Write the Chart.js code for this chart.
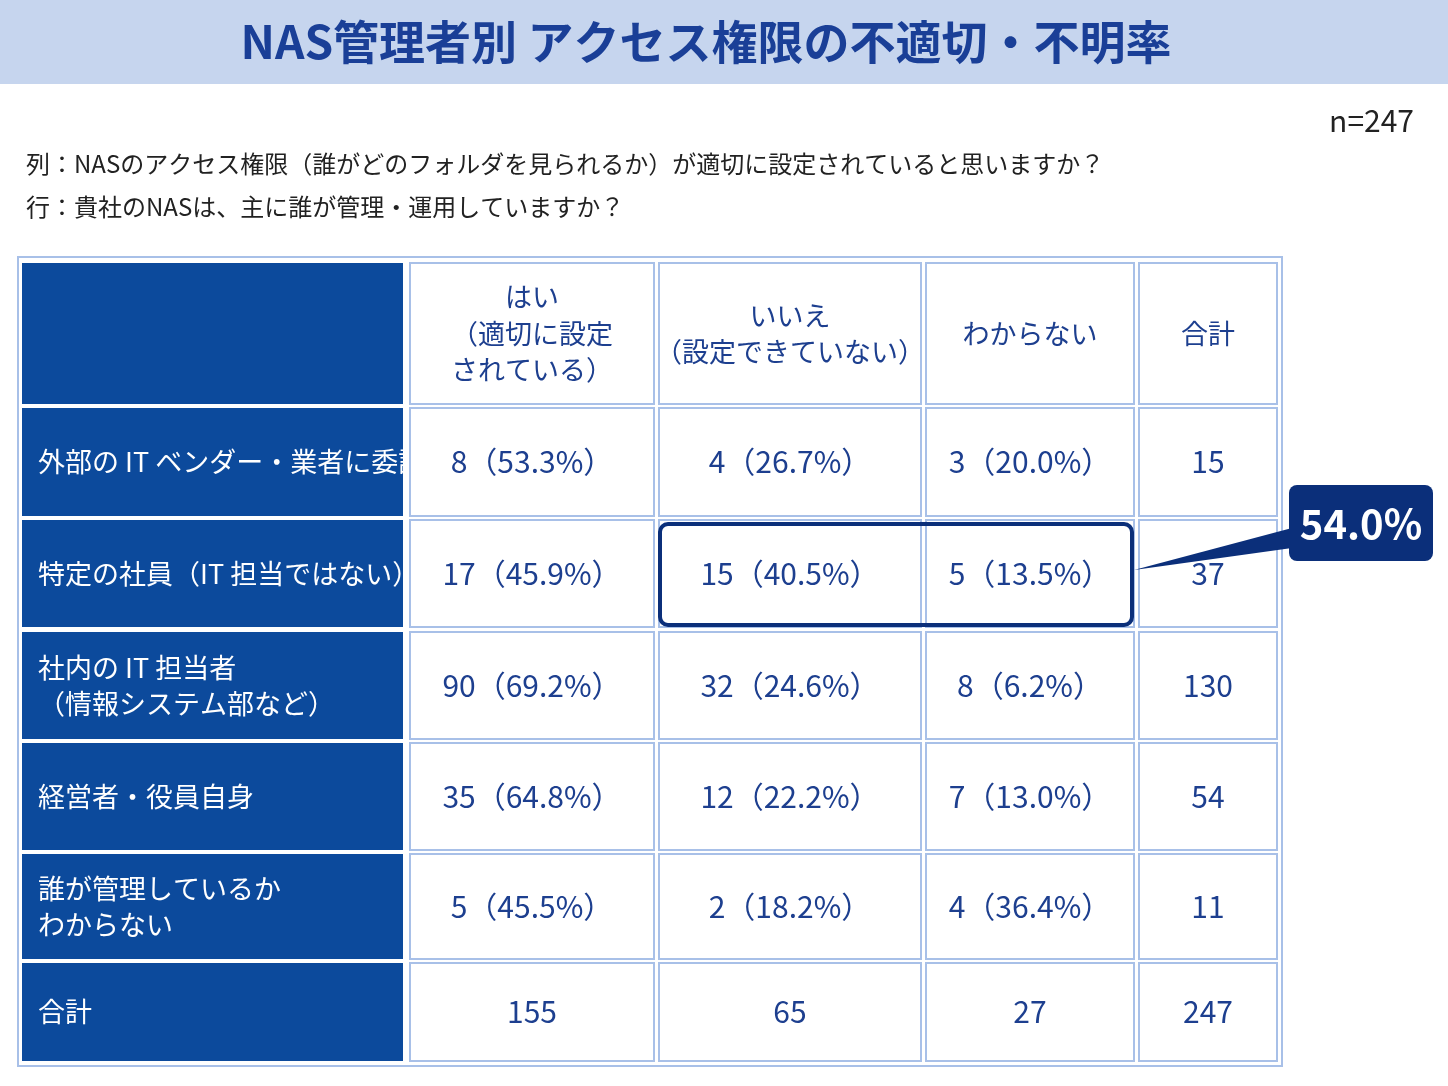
<!DOCTYPE html>
<html><head><meta charset="utf-8">
<script src="https://cdn.jsdelivr.net/npm/chart.js@4"></script>
<style>body{margin:0;background:#fff}canvas{display:block}</style>
</head><body>
<canvas id="c" width="1448" height="1086"></canvas>
<script>
const title = 'NAS管理者別 アクセス権限の不適切・不明率';
const sampleSize = 'n=247';
const questionCol = '列：NASのアクセス権限（誰がどのフォルダを見られるか）が適切に設定されていると思いますか？';
const questionRow = '行：貴社のNASは、主に誰が管理・運用していますか？';
const colHeaders = [['はい', '（適切に設定', 'されている）'], ['いいえ', '（設定できていない）'], ['わからない'], ['合計']];
const rowLabels = [['外部の IT ベンダー・業者に委託'], ['特定の社員（IT 担当ではない）'], ['社内の IT 担当者', '（情報システム部など）'], ['経営者・役員自身'], ['誰が管理しているか', 'わからない'], ['合計']];
const yesCounts = [8, 17, 90, 35, 5];
const noCounts = [4, 15, 32, 12, 2];
const unknownCounts = [3, 5, 8, 7, 4];
const highlightLabel = '54.0%';

// layout (page pixels mapped through hidden linear scales)
const colEdges = [[22, 403], [410, 654], [659, 921], [926, 1134], [1139, 1277]];
const rowEdges = [[263, 404], [408, 516], [520, 627], [632, 739], [743, 850], [854, 959], [963, 1061]];

const NAVY = '#0c4a9c', TXT = '#1d3f8f', LINE = '#a8c0e8';
const FONT = '"Noto Sans CJK JP", "Noto Sans", sans-serif';

function pct(v, t) { return v + '（' + (v / t * 100).toFixed(1) + '%）'; }

const tablePlugin = {
  id: 'table',
  afterDraw(chart) {
    const ctx = chart.ctx, xs = chart.scales.x, ys = chart.scales.y;
    const X = v => xs.getPixelForValue(v), Y = v => ys.getPixelForValue(v);
    ctx.save();
    // title band
    ctx.fillStyle = '#c6d5ee';
    ctx.fillRect(X(0), Y(0), X(1448) - X(0), Y(84) - Y(0));
    ctx.fillStyle = '#1a3f97';
    ctx.font = 'bold 46px ' + FONT;
    ctx.textAlign = 'center'; ctx.textBaseline = 'middle';
    ctx.fillText(title, X(706), Y(42));
    ctx.fillStyle = '#222';
    ctx.font = '30px ' + FONT;
    ctx.textAlign = 'right';
    ctx.fillText(sampleSize, X(1414), Y(121));
    ctx.font = '24px ' + FONT; ctx.textAlign = 'left';
    ctx.fillText(questionCol, X(26), Y(164));
    ctx.fillText(questionRow, X(26), Y(207));

    // outer border
    ctx.strokeStyle = LINE; ctx.lineWidth = 2;
    ctx.strokeRect(X(18), Y(257), X(1282) - X(18), Y(1066) - Y(257));

    const totals = yesCounts.map((v, i) => v + noCounts[i] + unknownCounts[i]);
    const colSums = [yesCounts, noCounts, unknownCounts].map(a => a.reduce((s, v) => s + v, 0));
    const grand = totals.reduce((s, v) => s + v, 0);

    function cell(ci, ri, lines, fill, color, align, size) {
      const [x0, x1] = colEdges[ci], [y0, y1] = rowEdges[ri];
      ctx.fillStyle = fill;
      ctx.fillRect(X(x0), Y(y0), X(x1) - X(x0), Y(y1) - Y(y0));
      if (fill === '#fff') { ctx.strokeStyle = LINE; ctx.lineWidth = 2; ctx.strokeRect(X(x0), Y(y0), X(x1) - X(x0), Y(y1) - Y(y0)); }
      ctx.fillStyle = color; ctx.font = size + 'px ' + FONT;
      ctx.textAlign = align; ctx.textBaseline = 'middle';
      const lh = size * 1.35, cy = (y0 + y1) / 2 - (lines.length - 1) * lh / 2;
      const tx = align === 'left' ? x0 + 16 : (x0 + x1) / 2;
      lines.forEach((l, k) => ctx.fillText(l, X(tx), Y(cy + k * lh)));
    }
    cell(0, 0, [], NAVY, '#fff', 'left', 27);
    colHeaders.forEach((h, i) => cell(i + 1, 0, h, '#fff', TXT, 'center', 27));
    rowLabels.forEach((r, i) => cell(0, i + 1, r, NAVY, '#fff', 'left', 27));
    yesCounts.forEach((v, i) => {
      cell(1, i + 1, [pct(v, totals[i])], '#fff', TXT, 'center', 30);
      cell(2, i + 1, [pct(noCounts[i], totals[i])], '#fff', TXT, 'center', 30);
      cell(3, i + 1, [pct(unknownCounts[i], totals[i])], '#fff', TXT, 'center', 30);
      cell(4, i + 1, [String(totals[i])], '#fff', TXT, 'center', 30);
    });
    colSums.forEach((s, i) => cell(i + 1, 6, [String(s)], '#fff', TXT, 'center', 30));
    cell(4, 6, [String(grand)], '#fff', TXT, 'center', 30);

    // highlight box
    ctx.strokeStyle = '#0b2f7a'; ctx.lineWidth = 4;
    ctx.beginPath();
    ctx.roundRect(X(660), Y(524), X(1132) - X(660), Y(625) - Y(524), 8);
    ctx.stroke();
    // callout
    ctx.fillStyle = '#0b2f7a';
    ctx.beginPath();
    ctx.moveTo(X(1134), Y(570)); ctx.lineTo(X(1292), Y(528)); ctx.lineTo(X(1292), Y(548)); ctx.closePath();
    ctx.fill();
    ctx.beginPath();
    ctx.roundRect(X(1289), Y(485), X(1433) - X(1289), Y(561) - Y(485), 8);
    ctx.fill();
    ctx.fillStyle = '#fff'; ctx.font = 'bold 40px ' + FONT; ctx.textAlign = 'center';
    ctx.fillText(highlightLabel, X(1361), Y(524));
    ctx.restore();
  }
};

new Chart(document.getElementById('c'), {
  type: 'scatter',
  data: { datasets: [{ data: [] }] },
  options: {
    responsive: false, animation: false, devicePixelRatio: 1,
    layout: { padding: 0 },
    plugins: { legend: { display: false }, tooltip: { enabled: false } },
    scales: {
      x: { type: 'linear', min: 0, max: 1448, display: false },
      y: { type: 'linear', min: 0, max: 1086, reverse: true, display: false }
    }
  },
  plugins: [tablePlugin]
});
</script>
</body></html>
